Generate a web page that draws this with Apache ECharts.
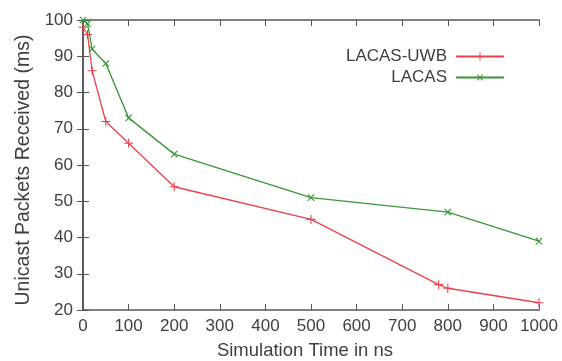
<!DOCTYPE html>
<html><head><meta charset="utf-8">
<script src="https://cdn.jsdelivr.net/npm/echarts@6/dist/echarts.min.js"></script>
<style>html,body{margin:0;padding:0;background:#fff}#c{width:562px;height:361px}</style>
</head><body><div id="c"></div>
<script>
var seriesNames = ['LACAS-UWB', 'LACAS'];
var uwbX = [0, 10, 20, 50, 100, 200, 500, 780, 800, 1000];
var uwbY = [98, 96, 86, 72, 66, 54, 45, 27, 26, 22];
var lacasX = [0, 10, 20, 50, 100, 200, 500, 800, 1000];
var lacasY = [100, 99, 92, 88, 73, 63, 51, 47, 39];
var xTicks = [0, 100, 200, 300, 400, 500, 600, 700, 800, 900, 1000];
var yTicks = [20, 30, 40, 50, 60, 70, 80, 90, 100];

function pairs(xs, ys) { return xs.map(function (x, i) { return [x, ys[i]]; }); }
var plus = 'path://M-0.6,-5H0.6V-0.6H5V0.6H0.6V5H-0.6V0.6H-5V-0.6H-0.6Z';
var font = '"Liberation Sans", Arial, sans-serif';
var txt = '#3f3f3f';
var axisCommon = {
  axisLine: { show: true, lineStyle: { color: '#555', width: 1.5 } },
  axisTick: { show: true, inside: true, length: 6, lineStyle: { color: '#555' } },
  splitLine: { show: false }
};
var chart = echarts.init(document.getElementById('c'), null, { renderer: 'canvas' });
chart.setOption({
  animation: false,
  grid: { left: 83, right: 23, top: 20, bottom: 51, containLabel: false, outerBoundsMode: 'none' },
  legend: {
    orient: 'vertical', right: 57, top: 48, align: 'right', padding: 0,
    itemWidth: 48, itemHeight: 10, itemGap: 4,
    textStyle: { fontFamily: font, fontSize: 17, color: txt, padding: [0, 4, 0, 0] },
    data: seriesNames
  },
  xAxis: [
    Object.assign({ type: 'value', min: 0, max: 1000, interval: 100, position: 'bottom',
      name: 'Simulation Time in ns', nameLocation: 'middle', nameGap: 31,
      nameTextStyle: { fontFamily: font, fontSize: 18.5, color: txt, padding: [0, 12, 0, 0] },
      axisLabel: { fontFamily: font, fontSize: 17, color: txt, margin: 8,
        formatter: function (v) { return xTicks.indexOf(v) >= 0 ? String(v) : ''; } } }, axisCommon),
    Object.assign({ type: 'value', min: 0, max: 1000, interval: 100, position: 'top',
      axisLabel: { show: false } }, axisCommon)
  ],
  yAxis: [
    Object.assign({ type: 'value', min: 20, max: 100, interval: 10, position: 'left',
      name: 'Unicast Packets Received (ms)', nameLocation: 'middle', nameGap: 49,
      nameTextStyle: { fontFamily: font, fontSize: 19.5, color: txt, padding: [0, 10, 0, 0] },
      axisLabel: { fontFamily: font, fontSize: 17, color: txt, margin: 10,
        formatter: function (v) { return yTicks.indexOf(v) >= 0 ? String(v) : ''; } } }, axisCommon),
    Object.assign({ type: 'value', min: 20, max: 100, interval: 10, position: 'right',
      axisLabel: { show: false } }, axisCommon)
  ],
  series: [
    { name: seriesNames[0], type: 'line', data: pairs(uwbX, uwbY),
      symbol: plus, symbolSize: 9, showAllSymbol: true,
      lineStyle: { color: '#e8434b', width: 1.3 }, itemStyle: { color: '#e8434b' } },
    { name: seriesNames[1], type: 'line', data: pairs(lacasX, lacasY),
      symbol: plus, symbolSize: 9, symbolRotate: 45, showAllSymbol: true,
      lineStyle: { color: '#3a963a', width: 1.3 }, itemStyle: { color: '#3a963a' } }
  ]
});
</script></body></html>
